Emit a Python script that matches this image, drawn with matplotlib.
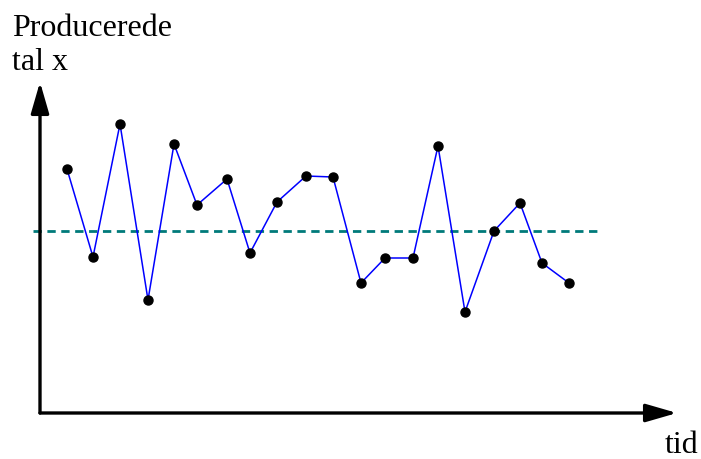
import matplotlib.pyplot as plt

# time positions and produced numbers x (arbitrary units)
tid = [2.7, 5.3, 8.0, 10.8, 13.4, 15.7, 18.7, 21.0, 23.7, 26.6,
       29.3, 32.1, 34.5, 37.3, 39.8, 42.5, 45.4, 48.0, 50.2, 52.9]
tal_x = [24.4, 15.6, 28.9, 11.3, 26.9, 20.8, 23.4, 16.0, 21.1, 23.7,
         23.6, 13.0, 15.5, 15.5, 26.7, 10.1, 18.2, 21.0, 15.0, 13.0]
niveau = 18.2

plt.rcParams['font.family'] = ['Liberation Serif', 'DejaVu Serif']

fig = plt.figure(figsize=(7.01, 4.59), dpi=100)
ax = fig.add_axes([0, 0, 1, 1])
ax.set_xlim(-4, 66.1)
ax.set_ylim(-4.6, 41.3)
ax.axis('off')

# axes drawn as arrows
arrow = dict(arrowstyle='-|>,head_length=1.9,head_width=0.55', color='black',
             lw=2.4, shrinkA=0, shrinkB=0)
ax.annotate('', xy=(63.7, 0), xytext=(0, 0), arrowprops=arrow)
ax.annotate('', xy=(0, 33.1), xytext=(0, 0), arrowprops=arrow)

# reference level
ax.plot([-0.7, 55.8], [niveau, niveau], color='#007a7a', lw=2,
        linestyle=(0, (3, 2)))

ax.plot(tid, tal_x, color='blue', lw=1.1, marker='o', markersize=6.5,
        markerfacecolor='black', markeredgecolor='black', zorder=3)

ax.text(-2.8, 37.7, 'Producerede', fontsize=23, va='baseline', ha='left')
ax.text(-2.8, 34.3, 'tal x', fontsize=23, va='baseline', ha='left')
ax.text(62.5, -4.0, 'tid', fontsize=23, va='baseline', ha='left')

fig.savefig('out.png', dpi=100)
